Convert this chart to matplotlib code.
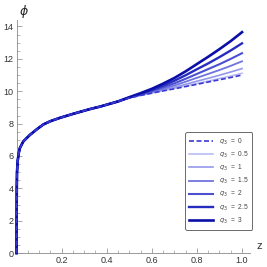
import matplotlib.pyplot as plt
import numpy as np

plt.rcParams['font.family'] = ['Liberation Sans', 'DejaVu Sans']

# shared part of the curve (all q3 values coincide here)
z_base = [0.0, 0.0003, 0.001, 0.002, 0.005, 0.01, 0.015, 0.03, 0.059, 0.09,
          0.119, 0.15, 0.193, 0.25, 0.326, 0.37, 0.4, 0.45]
phi_base = [0.0, 2.0, 4.0, 5.0, 5.7, 6.2, 6.5, 6.9, 7.3, 7.65,
            7.95, 8.15, 8.36, 8.6, 8.9, 9.05, 9.17, 9.37]

# part where the curves split
z_tail = [0.5, 0.55, 0.6, 0.65, 0.7, 0.75, 0.8, 0.85, 0.9, 0.95, 1.0]
q3_vals = ["0", "0.5", "1", "1.5", "2", "2.5", "3"]
phi_tail = [
    [9.58, 9.74, 9.88, 10.02, 10.15, 10.29, 10.43, 10.57, 10.71, 10.85, 11.00],
    [9.58, 9.75, 9.89, 10.04, 10.18, 10.33, 10.48, 10.63, 10.79, 10.94, 11.11],
    [9.59, 9.76, 9.92, 10.09, 10.25, 10.43, 10.62, 10.80, 10.99, 11.19, 11.40],
    [9.60, 9.78, 9.97, 10.16, 10.36, 10.59, 10.83, 11.07, 11.31, 11.57, 11.85],
    [9.61, 9.81, 10.02, 10.25, 10.49, 10.77, 11.07, 11.37, 11.67, 12.00, 12.35],
    [9.62, 9.84, 10.08, 10.35, 10.65, 10.99, 11.36, 11.72, 12.11, 12.52, 12.96],
    [9.63, 9.88, 10.15, 10.47, 10.82, 11.23, 11.68, 12.13, 12.60, 13.10, 13.65],
]

colores = ["#3a3ad2", "#b3b6f2", "#9397ea", "#6f74de", "#4b50d0", "#272cc0", "#0b0fa8"]
kalinlik = [1.2, 1.1, 1.2, 1.3, 1.5, 1.7, 1.9]

fig = plt.figure(figsize=(2.67, 2.67), dpi=100)
ax = fig.add_axes([0.062, 0.052, 0.874, 0.873])

# draw light ones first, dashed q3=0 on top
sira = [1, 2, 3, 4, 5, 6, 0]
for i in sira:
    z = z_base + z_tail
    phi = phi_base + phi_tail[i]
    ls = (0, (3, 1.5)) if i == 0 else "-"
    ax.plot(z, phi, color=colores[i], lw=kalinlik[i], ls=ls,
            label=r"$q_3$ = " + q3_vals[i], clip_on=False, zorder=3)

ax.set_xlim(0, 1.035)
ax.set_ylim(0, 14.4)
ax.set_xticks([0.2, 0.4, 0.6, 0.8, 1.0])
ax.set_xticklabels(["0.2", "0.4", "0.6", "0.8", "1.0"])
ax.set_yticks(np.arange(0, 15, 2))
ax.set_xticks(np.arange(0.05, 1.03, 0.05), minor=True)
ax.set_yticks(np.arange(0.5, 14.4, 0.5), minor=True)

for s in ["top", "right"]:
    ax.spines[s].set_visible(False)
for s in ["left", "bottom"]:
    ax.spines[s].set_color("#999999")
    ax.spines[s].set_linewidth(0.7)

ax.tick_params(which="both", direction="in", colors="#999999", labelcolor="#333333",
               labelsize=6.5, pad=2)
ax.tick_params(which="major", length=3.5, width=0.6)
ax.tick_params(which="minor", length=2, width=0.5)

fig.text(0.07, 0.99, r"$\phi$", fontsize=9, color="#222222", ha="left", va="top")
ax.text(1.03, 0.01, "z", transform=ax.transAxes, fontsize=8, color="#333333",
        ha="left", va="bottom")

handles, labels = ax.get_legend_handles_labels()
order = [labels.index(r"$q_3$ = " + q) for q in q3_vals]
leg = ax.legend([handles[k] for k in order],
                [r"$q_3$  =  " + q for q in q3_vals],
                loc="lower right", bbox_to_anchor=(1.01, 0.1), fontsize=4.8,
                frameon=True, fancybox=True, handlelength=3.6, handletextpad=0.8,
                labelspacing=0.45, borderpad=0.6, borderaxespad=0)
leg.get_frame().set_edgecolor("#444444")
leg.get_frame().set_linewidth(0.7)
leg.set_zorder(5)
for t in leg.get_texts():
    t.set_color("#444444")

fig.savefig("out.png", dpi=100)
